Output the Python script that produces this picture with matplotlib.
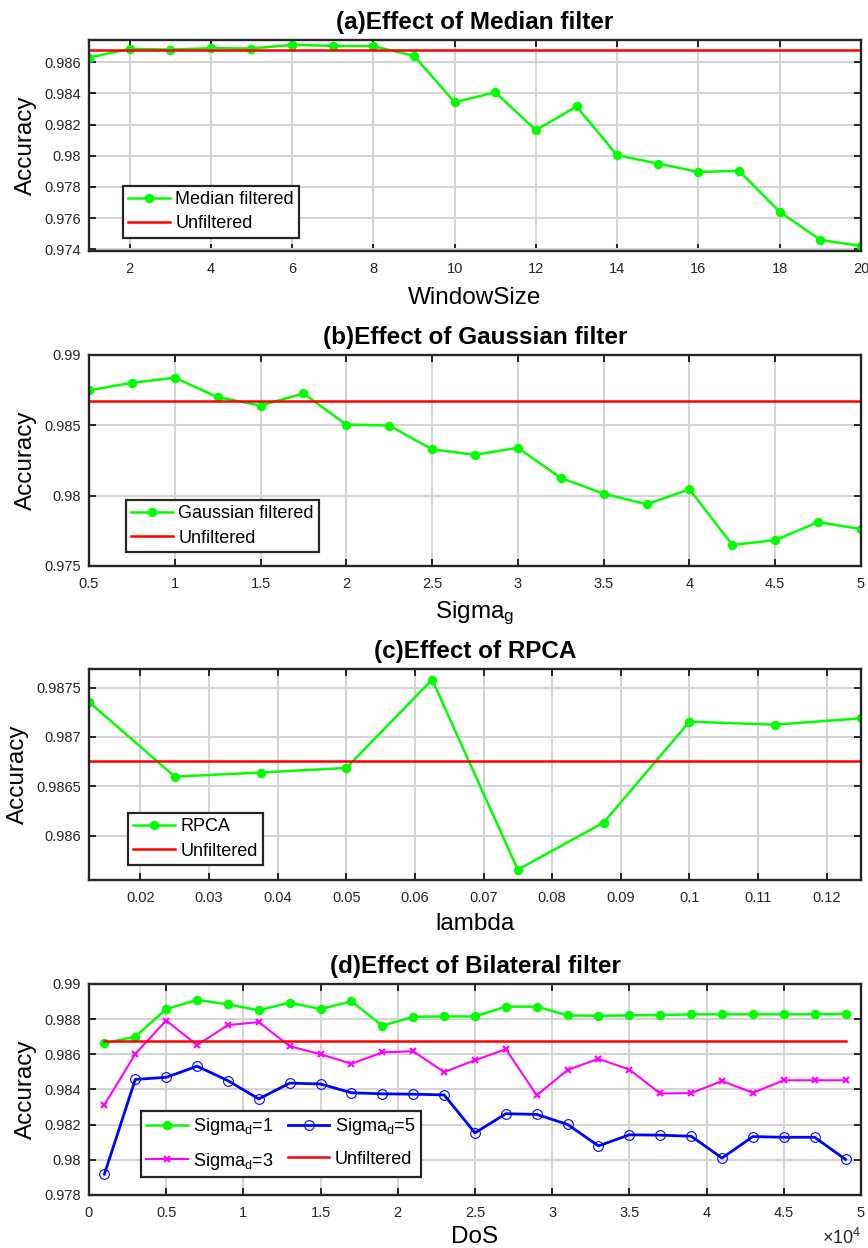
"""Accuracy versus filter parameter for four denoising methods."""

import matplotlib
matplotlib.use("Agg")
import matplotlib.pyplot as plt
from matplotlib.ticker import FuncFormatter

plt.rcParams["font.family"] = ["Liberation Sans", "DejaVu Sans"]
plt.rcParams["mathtext.fontset"] = "custom"
plt.rcParams["mathtext.rm"] = "Liberation Sans"
plt.rcParams["mathtext.it"] = "Liberation Sans"

UNFILTERED = 0.98676

# (a) median filter
window_size = list(range(1, 21))
median_acc = [0.98630, 0.98686, 0.98681, 0.98690, 0.98688, 0.98711, 0.98705,
              0.98703, 0.98641, 0.98343, 0.98407, 0.98164, 0.98316, 0.98003,
              0.97950, 0.97896, 0.97903, 0.97640, 0.97460, 0.97421]

# (b) gaussian filter
sigma_g = [0.5, 0.75, 1.0, 1.25, 1.5, 1.75, 2.0, 2.25, 2.5, 2.75, 3.0, 3.25,
           3.5, 3.75, 4.0, 4.25, 4.5, 4.75, 5.0]
gaussian_acc = [0.98748, 0.98802, 0.98838, 0.98700, 0.98640, 0.98726, 0.98505,
                0.98498, 0.98329, 0.98290, 0.98340, 0.98126, 0.98014, 0.97938,
                0.98045, 0.97650, 0.97683, 0.97812, 0.97762]

# (c) RPCA
lam = [0.0125, 0.025, 0.0375, 0.05, 0.0625, 0.075, 0.0875, 0.1, 0.1125, 0.125]
rpca_acc = [0.987355, 0.986598, 0.986639, 0.986686, 0.987581, 0.985655,
            0.986132, 0.987155, 0.987125, 0.987189]

# (d) bilateral filter
dos = list(range(1000, 50000, 2000))
bilateral_d1 = [0.98662, 0.98700, 0.98857, 0.98909, 0.98884, 0.98850, 0.98894,
                0.98857, 0.98901, 0.98762, 0.98813, 0.98815, 0.98815, 0.98871,
                0.98871, 0.98821, 0.98819, 0.98821, 0.98823, 0.98827, 0.98827,
                0.98827, 0.98827, 0.98827, 0.98829]
bilateral_d3 = [0.98312, 0.98602, 0.98792, 0.98652, 0.98766, 0.98783, 0.98646,
                0.98600, 0.98546, 0.98611, 0.98617, 0.98499, 0.98566, 0.98629,
                0.98367, 0.98511, 0.98574, 0.98513, 0.98377, 0.98379, 0.98448,
                0.98381, 0.98452, 0.98452, 0.98452]
bilateral_d5 = [0.97918, 0.98457, 0.98469, 0.98532, 0.98450, 0.98346, 0.98436,
                0.98431, 0.98381, 0.98375, 0.98373, 0.98369, 0.98153, 0.98262,
                0.98258, 0.98201, 0.98079, 0.98142, 0.98140, 0.98134, 0.98010,
                0.98132, 0.98128, 0.98128, 0.98002]

GREEN = "#00ff00"
RED = "#ff0000"
MAGENTA = "#ff00ff"
BLUE = "#0000ff"
SPINE = "#262626"
GRID = "#d4d4d4"

LEFT, WIDTH, HEIGHT = 0.1025, 0.8894, 0.1691
BOTTOMS = [0.7989, 0.5465, 0.2949, 0.0425]


def style_axes(ax, title, xlabel, xpad=8):
    ax.set_title(title, fontsize=17.5, fontweight="bold", pad=8)
    ax.set_xlabel(xlabel, fontsize=17.5, labelpad=xpad)
    ax.set_ylabel("Accuracy", fontsize=17.5, labelpad=5)
    ax.grid(True, color=GRID, linewidth=1.5)
    ax.set_axisbelow(True)
    ax.tick_params(direction="in", length=5, width=1.4, labelsize=10.5,
                   top=True, right=True, colors=SPINE, pad=6)
    ax.tick_params(axis="x", pad=8)
    for side in ax.spines.values():
        side.set_linewidth(1.7)
        side.set_color(SPINE)
    ax.yaxis.set_major_formatter(FuncFormatter(lambda v, _: f"{v:g}"))


def add_legend(ax, anchor, ncol=1, spacing=0.4):
    leg = ax.legend(loc="lower left", bbox_to_anchor=anchor, ncol=ncol,
                    fontsize=13, frameon=True, fancybox=False, borderaxespad=0,
                    handlelength=2.3, handletextpad=0.3, columnspacing=0.8,
                    borderpad=0.3, labelspacing=spacing)
    leg.get_frame().set_edgecolor(SPINE)
    leg.get_frame().set_linewidth(1.6)
    leg.get_frame().set_alpha(1)
    return leg


fig = plt.figure(figsize=(8.68, 12.48), dpi=100)
axes = [fig.add_axes([LEFT, b, WIDTH, HEIGHT]) for b in BOTTOMS]

# (a)
ax = axes[0]
ax.plot(window_size, median_acc, color=GREEN, lw=1.8, marker="o", ms=5.8,
        label="Median filtered")
ax.axhline(UNFILTERED, color=RED, lw=1.8, label="Unfiltered")
ax.set_xlim(1, 20)
ax.set_ylim(0.97389, 0.98743)
ax.set_xticks(range(2, 21, 2))
ax.set_yticks([0.974, 0.976, 0.978, 0.98, 0.982, 0.984, 0.986])
style_axes(ax, "(a)Effect of Median filter", "WindowSize")
add_legend(ax, (0.044, 0.062))

# (b)
ax = axes[1]
ax.plot(sigma_g, gaussian_acc, color=GREEN, lw=1.8, marker="o", ms=5.8,
        label="Gaussian filtered")
ax.axhline(UNFILTERED, color=RED, lw=1.8, label="Unfiltered")
ax.set_xlim(0.5, 5)
ax.set_ylim(0.975, 0.99)
ax.set_xticks([0.5, 1, 1.5, 2, 2.5, 3, 3.5, 4, 4.5, 5])
ax.set_yticks([0.975, 0.98, 0.985, 0.99])
ax.xaxis.set_major_formatter(FuncFormatter(lambda v, _: f"{v:g}"))
style_axes(ax, "(b)Effect of Gaussian filter", r"Sigma$_\mathrm{g}$", xpad=6)
add_legend(ax, (0.048, 0.066))

# (c)
ax = axes[2]
ax.plot(lam, rpca_acc, color=GREEN, lw=1.8, marker="o", ms=5.8, label="RPCA")
ax.axhline(0.986753, color=RED, lw=1.8, label="Unfiltered")
ax.set_xlim(0.0125, 0.125)
ax.set_ylim(0.98555, 0.98769)
ax.set_xticks([0.02, 0.03, 0.04, 0.05, 0.06, 0.07, 0.08, 0.09, 0.1, 0.11, 0.12])
ax.set_yticks([0.986, 0.9865, 0.987, 0.9875])
ax.xaxis.set_major_formatter(FuncFormatter(lambda v, _: f"{v:g}"))
style_axes(ax, "(c)Effect of RPCA", "lambda", xpad=6)
add_legend(ax, (0.0505, 0.071))

# (d)
ax = axes[3]
h1, = ax.plot(dos, bilateral_d1, color=GREEN, lw=1.8, marker="o", ms=5.8,
              label=r"Sigma$_\mathrm{d}$=1")
h3, = ax.plot(dos, bilateral_d3, color=MAGENTA, lw=1.5, marker="x", ms=5,
              mew=1.5, label=r"Sigma$_\mathrm{d}$=3")
h5, = ax.plot(dos, bilateral_d5, color=BLUE, lw=2.0, marker="o", ms=7,
              mfc="none", mew=0.8, label=r"Sigma$_\mathrm{d}$=5")
hu, = ax.plot([dos[0], dos[-1]], [0.98678, 0.98678], color=RED, lw=1.8,
              label="Unfiltered")
ax.set_xlim(0, 50000)
ax.set_ylim(0.978, 0.99)
ax.set_xticks(range(0, 50001, 5000))
ax.set_yticks([0.978, 0.98, 0.982, 0.984, 0.986, 0.988, 0.99])
ax.xaxis.set_major_formatter(FuncFormatter(lambda v, _: f"{v / 1e4:g}"))
style_axes(ax, "(d)Effect of Bilateral filter", "DoS", xpad=4)
ax.legend(handles=[h1, h3, h5, hu])
add_legend(ax, (0.067, 0.085), ncol=2, spacing=0.75)
ax.text(1.0, -0.155, r"$\times$10$^4$", transform=ax.transAxes, ha="right",
        va="top", fontsize=13, color=SPINE)

fig.savefig("out.png", dpi=100)
